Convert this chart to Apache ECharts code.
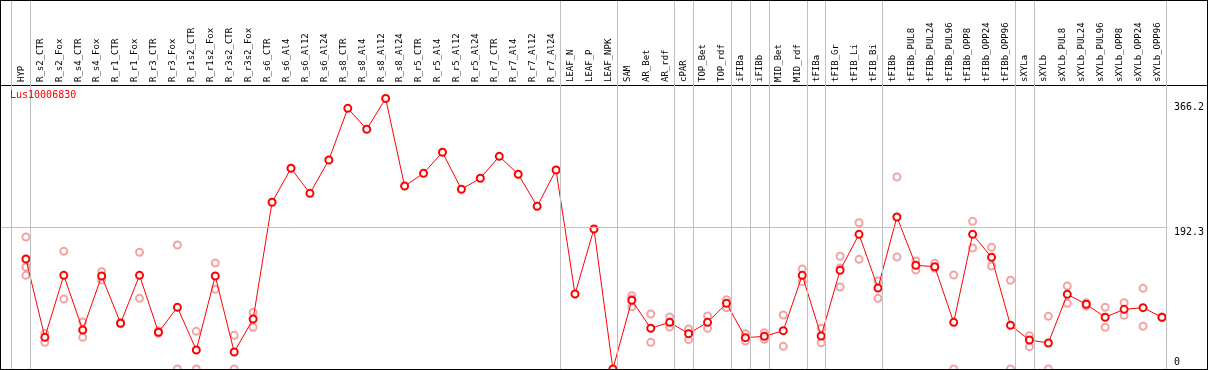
<!DOCTYPE html>
<html>
<head>
<meta charset="utf-8">
<title>Lus10006830</title>
<script src="https://cdn.jsdelivr.net/npm/echarts@6.0.0/dist/echarts.min.js"></script>
<style>
html, body { margin: 0; padding: 0; background: #fff; }
#frame { position: absolute; left: 0; top: 0; width: 1208px; height: 370px; box-sizing: border-box; border: 1px solid #000; }
#chart { width: 1206px; height: 368px; }
</style>
</head>
<body>
<div id="frame"><div id="chart"></div></div>
<script>
var geneName = 'Lus10006830';

var categories = ['HYP', 'R_s2_CTR', 'R_s2_Fox', 'R_s4_CTR', 'R_s4_Fox', 'R_r1_CTR', 'R_r1_Fox',
	'R_r3_CTR', 'R_r3_Fox', 'R_r1s2_CTR', 'R_r1s2_Fox', 'R_r3s2_CTR', 'R_r3s2_Fox',
	'R_s6_CTR', 'R_s6_Al4', 'R_s6_Al12', 'R_s6_Al24', 'R_s8_CTR', 'R_s8_Al4', 'R_s8_Al12', 'R_s8_Al24',
	'R_r5_CTR', 'R_r5_Al4', 'R_r5_Al12', 'R_r5_Al24', 'R_r7_CTR', 'R_r7_Al4', 'R_r7_Al12', 'R_r7_Al24',
	'LEAF_N', 'LEAF_P', 'LEAF_NPK', 'SAM', 'AR_Bet', 'AR_rdf', 'cPAR', 'TOP_Bet', 'TOP_rdf',
	'iFIBa', 'iFIBb', 'MID_Bet', 'MID_rdf', 'tFIBa', 'tFIB_Gr', 'tFIB_Li', 'tFIB_Bi',
	'tFIBb', 'tFIBb_PUL8', 'tFIBb_PUL24', 'tFIBb_PUL96', 'tFIBb_OPP8', 'tFIBb_OPP24', 'tFIBb_OPP96',
	'sXYLa', 'sXYLb', 'sXYLb_PUL8', 'sXYLb_PUL24', 'sXYLb_PUL96', 'sXYLb_OPP8', 'sXYLb_OPP24', 'sXYLb_OPP96'];

// mean expression per sample (red line)
var meanValues = [148.9, 42.9, 126.8, 52.8, 125.9, 61.9, 126.8, 49.7, 83.5, 25.7, 125.9, 23.0, 67.7,
	225.7, 271.7, 237.8, 282.9, 352.9, 324.5, 366.2, 247.7, 264.9, 293.4, 243.3, 258.2, 287.9, 263.6, 220.3, 269.4,
	101.5, 189.5, 0, 93.0, 55.1, 63.2, 47.8, 63.2, 88.9, 42.4, 44.2, 51.9, 126.8, 44.7, 133.6, 182.3, 109.7,
	205.8, 140.4, 138.5, 63.2, 182.3, 151.2, 59.2, 39.3, 35.2, 101.1, 87.6, 70.0, 80.8, 83.0, 70.0];

// single replicates per sample (pale circles)
var replicateValues = [
	[178.7, 138.1, 126.8], [48.3, 36.1], [159.3, 94.8], [63.6, 42.9], [131.7, 120.5], [63.0, 61.0],
	[158.0, 95.7], [51.9, 48.3], [167.9, 0], [51.0, 0], [143.5, 107.9], [45.6, 0], [76.7, 56.4],
	[], [], [], [], [], [], [], [], [], [], [], [], [], [], [], [],
	[], [], [], [99.2, 94.8, 84.3], [74.5, 36.1], [70.4, 56.9], [54.1, 39.7], [71.7, 55.1], [93.8, 83.0],
	[47.8, 37.9], [49.2, 40.2], [73.1, 30.7], [135.4, 118.2], [55.1, 35.6], [152.6, 136.7, 111.0],
	[198.0, 148.5], [119.1, 95.7], [259.9, 151.6], [146.2, 134.0], [143.1, 136.3], [127.3, 0],
	[199.9, 163.8], [164.7, 139.4], [120.1, 0], [45.1, 30.2], [71.3, 0], [112.4, 88.9], [89.8, 85.3],
	[83.5, 56.4], [89.8, 72.7], [109.2, 57.8], [70.5, 69.5]];

// last sample index of each tissue group (-1 = left edge)
var groupEnds = [-1, 0, 28, 31, 34, 35, 37, 38, 39, 41, 42, 45, 52, 53, 60];

var yTickValues = [0, 192.3, 366.2];

var monoFont = 'DejaVu Sans Mono';

var lineData = [];
for (var i = 0; i < meanValues.length; i++) {
	lineData.push([i, meanValues[i]]);
}
var scatterData = [];
for (var j = 0; j < replicateValues.length; j++) {
	for (var k = 0; k < replicateValues[j].length; k++) {
		scatterData.push([j, replicateValues[j][k]]);
	}
}
var markLineData = [];
for (var g = 0; g < groupEnds.length; g++) {
	markLineData.push({ xAxis: groupEnds[g] + 0.24 });
}
markLineData.push({ yAxis: yTickValues[1] });

var myChart = echarts.init(document.getElementById('chart'), null, { renderer: 'canvas' });
var option = {
	animation: false,
	title: {
		text: geneName,
		left: 9,
		top: 89,
		padding: 0,
		textStyle: { color: '#ff0000', fontSize: 10, fontWeight: 'normal', fontFamily: monoFont }
	},
	grid: { left: 0, right: 36, top: 0, bottom: 0 },
	graphic: [{
		type: 'line',
		shape: { x1: 0, y1: 84.5, x2: 1206, y2: 84.5 },
		style: { stroke: '#000', lineWidth: 1 },
		silent: true
	}],
	xAxis: {
		type: 'value',
		position: 'top',
		offset: -84,
		min: -1.3158,
		max: 60.26,
		axisLine: { show: false },
		axisTick: { show: false },
		splitLine: { show: false },
		axisLabel: {
			customValues: categories.map(function (c, idx) { return idx; }),
			rotate: 90,
			margin: 3,
			verticalAlign: 'bottom',
			fontFamily: monoFont,
			fontSize: 9,
			color: '#000',
			formatter: function (v) { return categories[v]; }
		}
	},
	yAxis: {
		type: 'value',
		position: 'right',
		min: 0,
		max: 498.2,
		axisLine: { show: false },
		axisTick: { show: false },
		splitLine: { show: false },
		axisLabel: {
			customValues: yTickValues,
			margin: 7,
			fontFamily: monoFont,
			fontSize: 10,
			color: '#000',
			formatter: function (v) {
				if (v === 0) return '{lo|0}';
				if (v > 300) return '{hi|' + v + '}';
				return '{mid|' + v + '}';
			},
			rich: {
				hi: { padding: [17, 0, 0, 0], fontFamily: monoFont, fontSize: 10, color: '#000' },
				mid: { padding: [10, 0, 0, 0], fontFamily: monoFont, fontSize: 10, color: '#000' },
				lo: { padding: [0, 0, 13, 0], fontFamily: monoFont, fontSize: 10, color: '#000' }
			}
		}
	},
	series: [
		{
			name: 'replicates',
			type: 'scatter',
			symbol: 'emptyCircle',
			symbolSize: 7,
			itemStyle: { color: '#f08c8c', borderWidth: 1 },
			data: scatterData,
			z: 2,
			markLine: {
				silent: true,
				symbol: ['none', 'none'],
				label: { show: false },
				lineStyle: { color: '#c0c0c0', width: 1, type: 'solid' },
				emphasis: { disabled: true },
				data: markLineData
			}
		},
		{
			name: geneName,
			type: 'line',
			symbol: 'emptyCircle',
			symbolSize: 7,
			showSymbol: true,
			itemStyle: { color: '#ff0000', borderWidth: 1.5 },
			lineStyle: { color: '#ff0000', width: 1 },
			data: lineData,
			z: 3
		}
	]
};
// 显示图表
myChart.setOption(option);
</script>
</body>
</html>
